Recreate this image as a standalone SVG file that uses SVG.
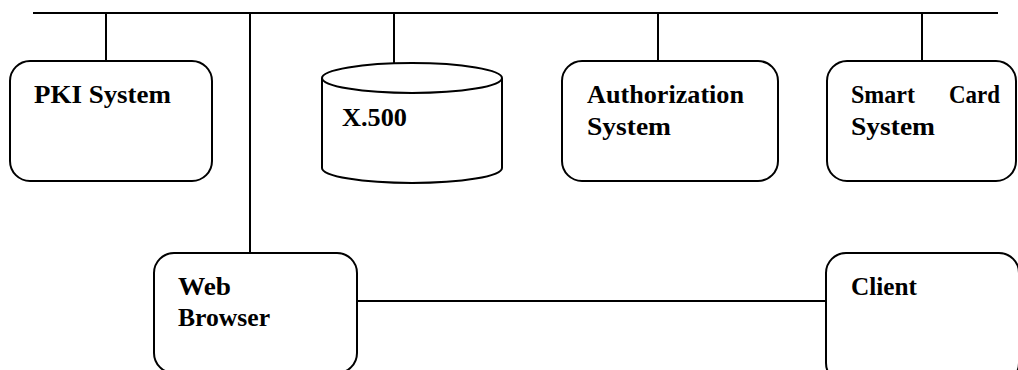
<svg xmlns="http://www.w3.org/2000/svg" width="1018" height="370" viewBox="0 0 1018 370">
<style>
.box{fill:#fff;stroke:#000;stroke-width:2}
.ln{fill:none;stroke:#000;stroke-width:2}
.t{font-family:"Liberation Serif",serif;font-weight:700;font-size:26px;fill:#000}
</style>
<rect width="1018" height="370" fill="#fff"/>
<g id="connectors">
<line class="ln" x1="33" y1="13" x2="998" y2="13"/>
<line class="ln" x1="106" y1="13" x2="106" y2="61"/>
<line class="ln" x1="250" y1="13" x2="250" y2="253"/>
<line class="ln" x1="394" y1="13" x2="394" y2="63"/>
<line class="ln" x1="658" y1="13" x2="658" y2="61"/>
<line class="ln" x1="922" y1="13" x2="922" y2="61"/>
<line class="ln" x1="346" y1="301" x2="826" y2="301"/>
</g>
<g id="pki">
<rect class="box" x="10" y="61" width="202" height="120" rx="20"/>
<text class="t" x="34" y="103" textLength="137" lengthAdjust="spacingAndGlyphs">PKI System</text>
</g>
<g id="x500">
<path class="box" d="M322,78 L322,168 A90,15 0 0 0 502,168 L502,78 A90,15 0 0 0 322,78 Z"/>
<path class="ln" d="M322,78 A90,15 0 0 0 502,78"/>
<text class="t" x="342" y="126" textLength="65" lengthAdjust="spacingAndGlyphs">X.500</text>
</g>
<g id="authorization">
<rect class="box" x="562" y="61" width="216" height="120" rx="20"/>
<text class="t" x="587" y="103" textLength="157" lengthAdjust="spacingAndGlyphs">Authorization</text>
<text class="t" x="587" y="135" textLength="84" lengthAdjust="spacingAndGlyphs">System</text>
</g>
<g id="smartcard">
<rect class="box" x="827" y="61" width="189" height="120" rx="20"/>
<text class="t" x="851" y="103" textLength="64" lengthAdjust="spacingAndGlyphs">Smart</text>
<text class="t" x="949" y="103" textLength="51" lengthAdjust="spacingAndGlyphs">Card</text>
<text class="t" x="851" y="135" textLength="84" lengthAdjust="spacingAndGlyphs">System</text>
</g>
<g id="webbrowser">
<rect class="box" x="154" y="253" width="203" height="120" rx="20"/>
<text class="t" x="178" y="295" textLength="53" lengthAdjust="spacingAndGlyphs">Web</text>
<text class="t" x="178" y="326" textLength="92" lengthAdjust="spacingAndGlyphs">Browser</text>
</g>
<g id="client">
<rect class="box" x="826" y="253" width="193" height="130" rx="20"/>
<text class="t" x="851" y="295" textLength="66" lengthAdjust="spacingAndGlyphs">Client</text>
</g>
</svg>
